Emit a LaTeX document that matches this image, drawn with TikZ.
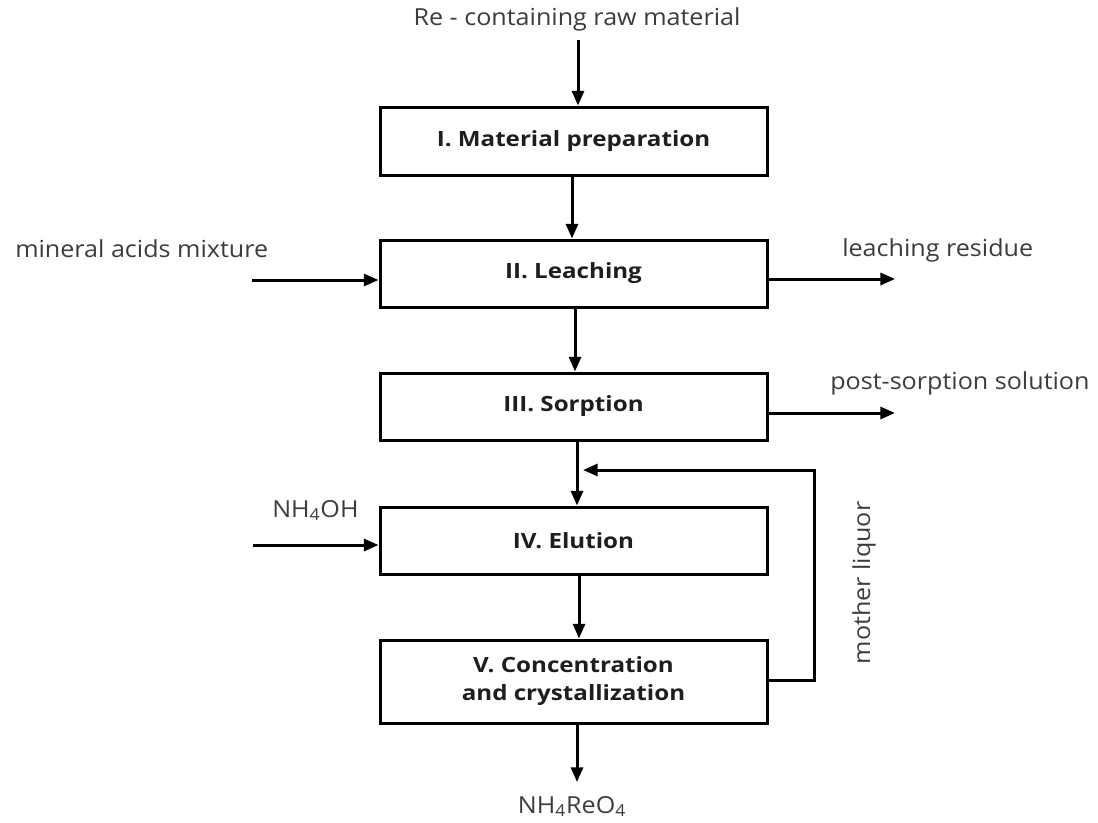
\documentclass[tikz,border=0pt]{standalone}
\usepackage{fontspec}
\setmainfont{Open Sans}
\usetikzlibrary{arrows.meta,calc}
\definecolor{labelgray}{RGB}{60,60,60}
\definecolor{boxtext}{RGB}{30,30,30}
\tikzset{
  stagebox/.style={draw=black, line width=2.25pt, minimum width=290.25pt, inner sep=0pt,
    font=\fontsize{15.75pt}{21pt}\selectfont\bfseries, text=boxtext, align=center},
  arr/.style={line width=2.25pt, -{Triangle[length=11pt,width=9pt]}},
  lbl/.style={font=\fontsize{17.6pt}{21pt}\selectfont, text=labelgray, inner sep=0pt},
}
\newcommand{\wideR}[1]{\scalebox{1.07}[1]{#1}}
\newcommand{\wideB}[1]{\raisebox{-2.5pt}{\scalebox{1.15}[1]{#1}}}
\begin{document}
\begin{tikzpicture}[x=0.75pt,y=-0.75pt]
\useasboundingbox (0,0) rectangle (1098,822);
% stage boxes
\node[stagebox, minimum height=51pt] (b1) at (573.5,141) {\wideB{I. Material preparation}};
\node[stagebox, minimum height=50.25pt] (b2) at (573.5,273.5) {\wideB{II. Leaching}};
\node[stagebox, minimum height=50.25pt] (b3) at (573.5,406.5) {\wideB{III. Sorption}};
\node[stagebox, minimum height=50.25pt] (b4) at (573.5,540.5) {\wideB{IV. Elution}};
\node[stagebox, minimum height=62.25pt] (b5) at (573.5,681.5) {\wideB{V. Concentration}\\\wideB{and crystallization}};
% labels
\node[lbl, anchor=base] (src) at (577,25) {\wideR{Re - containing raw material}};
\node[lbl, anchor=base west] (acid) at (15,257) {\wideR{mineral acids mixture}};
\node[lbl, anchor=base west] (res) at (842,256) {\wideR{leaching residue}};
\node[lbl, anchor=base west] (post) at (830,389) {\wideR{post-sorption solution}};
\node[lbl, anchor=base west] (nh4oh) at (272,517) {\wideR{NH\textsubscript{4}OH}};
\node[lbl, anchor=base] (prod) at (572,813) {\wideR{NH\textsubscript{4}ReO\textsubscript{4}}};
\node[lbl, rotate=90] (ml) at (864,583) {\wideR{mother liquor}};
% helper coordinates
\coordinate (s0) at (578,40);
\coordinate (c1) at (572,0);
\coordinate (c2) at (575,0);
\coordinate (c3) at (577,0);
\coordinate (c4) at (579,0);
\coordinate (c5) at (577,0);
\coordinate (e5) at (577,782);
\coordinate (inA) at (252,280);
\coordinate (inB) at (253,545);
\coordinate (outA) at (895,279);
\coordinate (outB) at (895,413);
\coordinate (mlR) at (814,680);
\coordinate (mlT) at (814,470);
\coordinate (mlE) at (583,470);
% connectors
\draw[arr] (s0) -- (s0 |- b1.north);
\draw[arr] (b1.south -| c1) -- (b2.north -| c1);
\draw[arr] (b2.south -| c2) -- (b3.north -| c2);
\draw[arr] (b3.south -| c3) -- (b4.north -| c3);
\draw[arr] (b4.south -| c4) -- (b5.north -| c4);
\draw[arr] (b5.south -| c5) -- (e5);
\draw[arr] (inA) -- (inA -| b2.west);
\draw[arr] (inB) -- (inB -| b4.west);
\draw[arr] (outA -| b2.east) -- (outA);
\draw[arr] (outB -| b3.east) -- (outB);
\draw[arr, line join=miter] (mlR -| b5.east) -- (mlR) -- (mlT) -- (mlE);
\end{tikzpicture}
\end{document}
